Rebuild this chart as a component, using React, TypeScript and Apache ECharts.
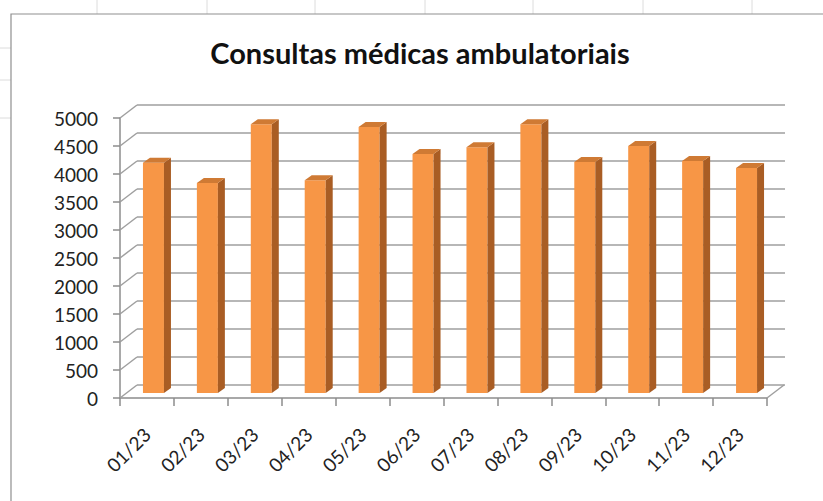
import React, { useEffect, useRef } from "react";
import * as echarts from "echarts";

const categories = ["01/23", "02/23", "03/23", "04/23", "05/23", "06/23", "07/23", "08/23", "09/23", "10/23", "11/23", "12/23"];
const values = [4110, 3750, 4800, 3800, 4750, 4270, 4390, 4800, 4125, 4410, 4145, 4020];
const yTicks = [0, 500, 1000, 1500, 2000, 2500, 3000, 3500, 4000, 4500, 5000];
const titleText = "Consultas médicas ambulatoriais";

const DX = 17;
const DY = 13;
const OX = 6.5;
const OY = 5;
const BW = 21;
const BDX = 7;
const BDY = 5;
const FRONT = "#F79646";
const SIDE = "#A95D24";
const TOP = "#CF7A34";
const GRID = "#9f9f9f";
const FONT = "Lato";

export default function App() {
  const ref = useRef<HTMLDivElement>(null);
  useEffect(() => {
    const chart = echarts.init(ref.current!, undefined, { renderer: "svg" });
    const sheetLines: any[] = [];
    [97, 207, 315, 425, 533, 643, 752].forEach((x) =>
      sheetLines.push({ type: "line", shape: { x1: x, y1: 0, x2: x, y2: 14 }, style: { stroke: "#dcdcdc", lineWidth: 1 } })
    );
    [48, 80, 118].forEach((y) =>
      sheetLines.push({ type: "line", shape: { x1: 0, y1: y, x2: 11, y2: y }, style: { stroke: "#dcdcdc", lineWidth: 1 } })
    );
    chart.setOption({
      animation: false,
      backgroundColor: "#ffffff",
      title: {
        text: titleText,
        left: 420,
        top: 38,
        textAlign: "center",
        padding: 0,
        textStyle: { fontFamily: FONT, fontWeight: "bold", fontSize: 29, color: "#111" },
      },
      graphic: [
        ...sheetLines,
        { type: "rect", shape: { x: 11, y: 14, width: 900, height: 600 }, style: { fill: "none", stroke: "#8f8f8f", lineWidth: 1.2 }, z: 0 },
      ],
      grid: [
        { left: 120, right: 56, top: 118, height: 280 },
        { left: 137, right: 38, top: 105, height: 280 },
      ],
      xAxis: [
        {
          type: "category",
          gridIndex: 0,
          data: categories,
          boundaryGap: true,
          axisLine: { show: true, lineStyle: { color: "#8c8c8c", width: 1.5 } },
          axisTick: { show: true, length: 8, lineStyle: { color: "#8c8c8c", width: 1.5 } },
          axisLabel: { show: true, rotate: 45, margin: 33, fontFamily: FONT, fontSize: 19, color: "#222" },
          splitLine: { show: false },
        },
        {
          type: "category",
          gridIndex: 1,
          data: categories,
          show: false,
        },
      ],
      yAxis: [
        {
          type: "value",
          gridIndex: 0,
          min: 0,
          max: 5000,
          interval: 500,
          axisLine: { show: true, lineStyle: { color: "#8c8c8c", width: 1.5 } },
          axisTick: { show: true, length: 7, lineStyle: { color: "#8c8c8c", width: 1.5 } },
          axisLabel: { show: true, margin: 22, fontFamily: FONT, fontSize: 19, color: "#222", formatter: (v: number) => String(v) },
          splitLine: { show: false },
        },
        {
          type: "value",
          gridIndex: 1,
          min: 0,
          max: 5000,
          interval: 500,
          axisLine: { show: false },
          axisTick: { show: false },
          axisLabel: { show: false },
          splitLine: { show: true, lineStyle: { color: GRID, width: 1.6 } },
        },
      ],
      series: [
        {
          type: "custom",
          xAxisIndex: 0,
          yAxisIndex: 0,
          z: 2,
          data: yTicks.map((t) => [0, t]),
          encode: { x: 0, y: 1 },
          renderItem: (params: any, api: any) => {
            const p = api.coord([0, api.value(1)]);
            const x = params.coordSys.x;
            return {
              type: "line",
              shape: { x1: x, y1: p[1], x2: x + DX, y2: p[1] - DY },
              style: { stroke: GRID, lineWidth: 1.5 },
            };
          },
        },
        {
          type: "custom",
          xAxisIndex: 0,
          yAxisIndex: 0,
          z: 2,
          data: [[categories.length - 1, 0]],
          encode: { x: 0, y: 1 },
          renderItem: (params: any, api: any) => {
            const p = api.coord([0, 0]);
            const x = params.coordSys.x + params.coordSys.width;
            return {
              type: "line",
              shape: { x1: x, y1: p[1], x2: x + DX, y2: p[1] - DY },
              style: { stroke: GRID, lineWidth: 1.5 },
            };
          },
        },
        {
          type: "custom",
          xAxisIndex: 0,
          yAxisIndex: 0,
          z: 3,
          data: values.map((v, i) => [i, v]),
          encode: { x: 0, y: 1 },
          renderItem: (params: any, api: any) => {
            const i = api.value(0);
            const v = api.value(1);
            const top = api.coord([i, v]);
            const base = api.coord([i, 0]);
            const x0 = top[0] + OX - BW / 2;
            const x1 = x0 + BW;
            const yt = top[1] - OY;
            const yb = base[1] - OY;
            return {
              type: "group",
              children: [
                { type: "rect", shape: { x: x0, y: yt, width: BW, height: yb - yt }, style: { fill: FRONT } },
                {
                  type: "polygon",
                  shape: { points: [[x1, yt], [x1 + BDX, yt - BDY], [x1 + BDX, yb - BDY], [x1, yb]] },
                  style: { fill: SIDE },
                },
                {
                  type: "polygon",
                  shape: { points: [[x0, yt], [x0 + BDX, yt - BDY], [x1 + BDX, yt - BDY], [x1, yt]] },
                  style: { fill: TOP },
                },
              ],
            };
          },
        },
      ],
    });
    return () => chart.dispose();
  }, []);
  return <div ref={ref} style={{ position: "absolute", left: 0, top: 0, width: 823, height: 501 }} />;
}
